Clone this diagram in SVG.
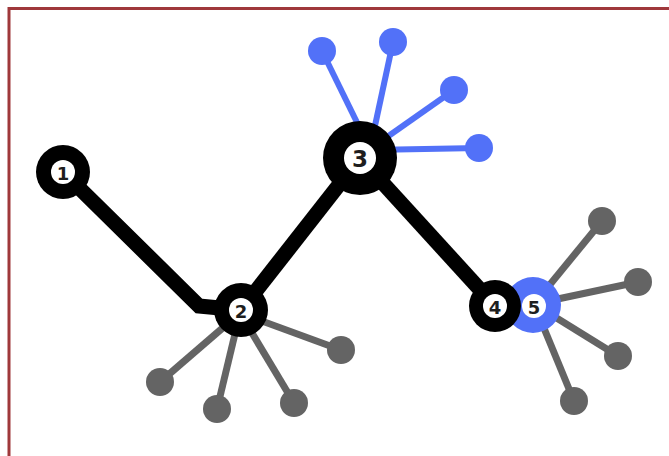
<svg xmlns="http://www.w3.org/2000/svg" width="669" height="456" viewBox="0 0 669 456">
  <style>
    .frame { fill: #ffffff; stroke: #9f383b; stroke-width: 3; }
    .trunk { fill: none; stroke: #000000; stroke-width: 15; stroke-linejoin: miter; }
    .spoke-blue { stroke: #5271f8; stroke-width: 6; }
    .spoke-grey { stroke: #646464; stroke-width: 7; }
    .leaf-blue { fill: #5271f8; }
    .leaf-grey { fill: #646464; }
    .ring { fill: #000000; }
    .ring-blue { fill: #5271f8; }
    .hole { fill: #ffffff; }
    .lbl { font-family: "DejaVu Sans", "Liberation Sans", sans-serif; font-weight: bold; fill: #1e1e1e; text-anchor: middle; dominant-baseline: central; }
  </style>

  <rect width="669" height="456" fill="#ffffff"/>
  <rect class="frame" x="9" y="8.5" width="680" height="470"/>

  <!-- connectors -->
  <g id="connectors">
    <polyline class="trunk" points="63,172 199,306 241,310"/>
    <line class="trunk" x1="241" y1="310" x2="360" y2="158"/>
    <line class="trunk" x1="360" y1="158" x2="495" y2="306"/>

    <line class="spoke-blue" x1="370" y1="149" x2="322" y2="51"/>
    <line class="spoke-blue" x1="370" y1="149" x2="393" y2="42"/>
    <line class="spoke-blue" x1="370" y1="149" x2="454" y2="90"/>
    <line class="spoke-blue" x1="370" y1="150" x2="479" y2="148"/>

    <line class="spoke-grey" x1="240" y1="313" x2="160" y2="382"/>
    <line class="spoke-grey" x1="240" y1="313" x2="217" y2="409"/>
    <line class="spoke-grey" x1="240" y1="313" x2="294" y2="403"/>
    <line class="spoke-grey" x1="240" y1="313" x2="341" y2="350"/>

    <line class="spoke-grey" x1="534" y1="304" x2="602" y2="221"/>
    <line class="spoke-grey" x1="534" y1="304" x2="638" y2="282"/>
    <line class="spoke-grey" x1="534" y1="304" x2="618" y2="356"/>
    <line class="spoke-grey" x1="534" y1="304" x2="574" y2="401"/>
  </g>

  <!-- leaves -->
  <g id="leaf-3a"><circle class="leaf-blue" cx="322" cy="51" r="14"/></g>
  <g id="leaf-3b"><circle class="leaf-blue" cx="393" cy="42" r="14"/></g>
  <g id="leaf-3c"><circle class="leaf-blue" cx="454" cy="90" r="14"/></g>
  <g id="leaf-3d"><circle class="leaf-blue" cx="479" cy="148" r="14"/></g>

  <g id="leaf-2a"><circle class="leaf-grey" cx="160" cy="382" r="14"/></g>
  <g id="leaf-2b"><circle class="leaf-grey" cx="217" cy="409" r="14"/></g>
  <g id="leaf-2c"><circle class="leaf-grey" cx="294" cy="403" r="14"/></g>
  <g id="leaf-2d"><circle class="leaf-grey" cx="341" cy="350" r="14"/></g>

  <g id="leaf-5a"><circle class="leaf-grey" cx="602" cy="221" r="14"/></g>
  <g id="leaf-5b"><circle class="leaf-grey" cx="638" cy="282" r="14"/></g>
  <g id="leaf-5c"><circle class="leaf-grey" cx="618" cy="356" r="14"/></g>
  <g id="leaf-5d"><circle class="leaf-grey" cx="574" cy="401" r="14"/></g>

  <!-- numbered nodes -->
  <g id="node-1">
    <circle class="ring" cx="63" cy="172" r="27"/>
    <circle class="hole" cx="63" cy="172" r="12"/>
    <text class="lbl" x="63" y="173" font-size="18">1</text>
  </g>
  <g id="node-2">
    <circle class="ring" cx="241" cy="310" r="27"/>
    <circle class="hole" cx="241" cy="310" r="12"/>
    <text class="lbl" x="241" y="311" font-size="18">2</text>
  </g>
  <g id="node-3">
    <circle class="ring" cx="360" cy="158" r="37"/>
    <circle class="hole" cx="360" cy="158" r="16"/>
    <text class="lbl" x="360" y="159" font-size="23">3</text>
  </g>
  <g id="node-5">
    <circle class="ring-blue" cx="533" cy="305" r="28"/>
    <circle class="hole" cx="534" cy="306" r="12"/>
    <text class="lbl" x="534" y="307" font-size="18">5</text>
  </g>
  <g id="node-4">
    <circle class="ring" cx="495" cy="306" r="26"/>
    <circle class="hole" cx="495" cy="306" r="12"/>
    <text class="lbl" x="495" y="307" font-size="18">4</text>
  </g>
</svg>
